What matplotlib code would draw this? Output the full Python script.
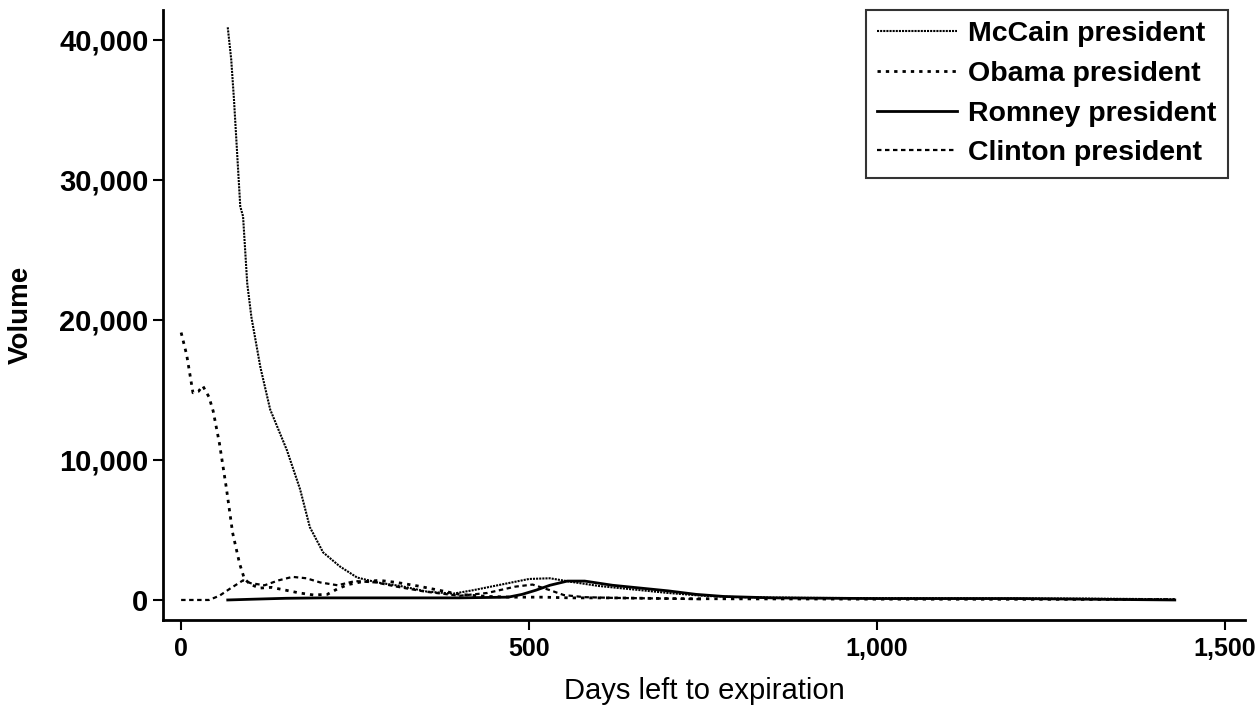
import matplotlib.pyplot as plt
from matplotlib.ticker import FuncFormatter

# daily trading volume by days left to contract expiration
mccain_days = [67, 72, 76, 85, 89, 95, 101, 114, 128, 152, 171, 185, 204, 228, 253, 282,
               315, 353, 391, 420, 460, 500, 530, 560, 600, 650, 700, 750, 800, 900,
               1000, 1100, 1200, 1300, 1428]
mccain_vol = [40900, 38600, 35700, 28100, 27400, 22600, 20200, 16600, 13600, 10700, 7900,
              5200, 3400, 2400, 1600, 1250, 1000, 600, 450, 700, 1100, 1500, 1550, 1300,
              1000, 750, 500, 300, 200, 150, 130, 120, 110, 100, 50]

obama_days = [0, 8, 17, 25, 31, 40, 46, 55, 65, 74, 84, 91, 100, 113, 130, 150, 170, 190,
              210, 225, 240, 260, 285, 310, 340, 370, 400, 440, 480, 520, 560, 620, 700,
              800, 1000, 1200, 1428]
obama_vol = [19100, 17500, 14800, 14900, 15300, 14500, 13500, 11200, 8000, 4800, 2600, 1500,
             1100, 850, 900, 700, 500, 360, 400, 800, 1100, 1300, 1400, 1250, 1000, 700, 400,
             250, 200, 200, 150, 150, 100, 80, 60, 50, 30]

romney_days = [67, 100, 150, 200, 300, 400, 470, 490, 510, 530, 555, 580, 620, 660, 700,
               740, 780, 850, 1000, 1200, 1428]
romney_vol = [0, 50, 120, 150, 150, 150, 200, 400, 700, 1050, 1350, 1350, 1050, 850, 650,
              400, 250, 150, 100, 100, 0]

clinton_days = [0, 20, 40, 55, 70, 89, 100, 120, 140, 160, 180, 200, 225, 250, 280, 310,
                350, 400, 440, 480, 505, 530, 550, 580, 620, 700, 750]
clinton_vol = [0, 0, 0, 300, 800, 1400, 1200, 1050, 1400, 1650, 1550, 1250, 1050, 1350, 1250,
               950, 600, 300, 500, 950, 1100, 700, 350, 200, 150, 100, 50]

plt.rcParams['font.family'] = ['Liberation Sans', 'DejaVu Sans']

fig = plt.figure(figsize=(12.58, 7.11), dpi=100)
ax = fig.add_axes([0.1296, 0.128, 0.8601, 0.858])

ax.plot(mccain_days, mccain_vol, color='black', lw=1.5, ls=(0, (1, 0.5)), label='McCain president')
ax.plot(obama_days, obama_vol, color='black', lw=2.0, ls=(0, (1.2, 1.8)), label='Obama president')
ax.plot(romney_days, romney_vol, color='black', lw=2.0, ls='-', label='Romney president')
ax.plot(clinton_days, clinton_vol, color='black', lw=1.6, ls=(0, (2, 1.6)), label='Clinton president')

ax.set_xlim(-26, 1529)
ax.set_ylim(-1430, 42140)
ax.set_xticks([0, 500, 1000, 1500])
ax.set_yticks([0, 10000, 20000, 30000, 40000])
ax.xaxis.set_major_formatter(FuncFormatter(lambda v, p: f'{int(v):,}'))
ax.yaxis.set_major_formatter(FuncFormatter(lambda v, p: f'{int(v):,}'))

for side in ['top', 'right']:
    ax.spines[side].set_visible(False)
for side in ['left', 'bottom']:
    ax.spines[side].set_linewidth(2)

ax.tick_params(axis='both', direction='out', length=7, width=1.5, color='black')
ax.tick_params(axis='x', pad=5)
for lab in ax.get_yticklabels():
    lab.set_fontsize(21)
    lab.set_fontweight('bold')
for lab in ax.get_xticklabels():
    lab.set_fontsize(18)
    lab.set_fontweight('bold')

ax.set_xlabel('Days left to expiration', fontsize=21, labelpad=12)
ax.set_ylabel('Volume', fontsize=20, fontweight='bold', labelpad=18)

leg = ax.legend(loc='upper right', bbox_to_anchor=(1228 / 1258, 1 - 10 / 711),
                bbox_transform=fig.transFigure, frameon=True,
                fancybox=False, edgecolor='black', handlelength=2.8, handletextpad=0.4,
                borderpad=0.4, labelspacing=0.48, borderaxespad=0,
                prop={'size': 20.5, 'weight': 'bold'})
leg.get_frame().set_linewidth(1.5)

fig.savefig('out.png', dpi=100)
